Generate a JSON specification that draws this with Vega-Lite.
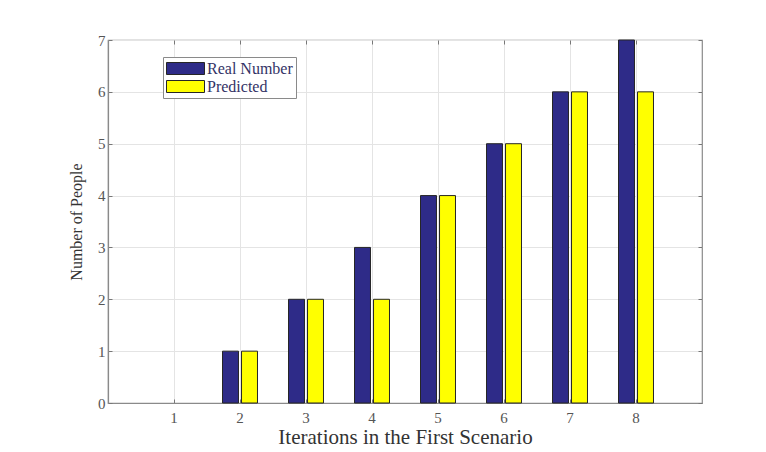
{
  "$schema": "https://vega.github.io/schema/vega-lite/v6.json",
  "width": 594,
  "height": 363,
  "autosize": {"type": "none"},
  "padding": {"left": 108, "top": 40, "right": 64, "bottom": 49},
  "background": "white",
  "config": {
    "view": {"stroke": "#8a8a8a", "strokeWidth": 1.2},
    "font": "Liberation Serif"
  },
  "data": {
    "values": [
      {"iteration": "1", "series": "Real Number", "people": 0},
      {"iteration": "1", "series": "Predicted", "people": 0},
      {"iteration": "2", "series": "Real Number", "people": 1},
      {"iteration": "2", "series": "Predicted", "people": 1},
      {"iteration": "3", "series": "Real Number", "people": 2},
      {"iteration": "3", "series": "Predicted", "people": 2},
      {"iteration": "4", "series": "Real Number", "people": 3},
      {"iteration": "4", "series": "Predicted", "people": 2},
      {"iteration": "5", "series": "Real Number", "people": 4},
      {"iteration": "5", "series": "Predicted", "people": 4},
      {"iteration": "6", "series": "Real Number", "people": 5},
      {"iteration": "6", "series": "Predicted", "people": 5},
      {"iteration": "7", "series": "Real Number", "people": 6},
      {"iteration": "7", "series": "Predicted", "people": 6},
      {"iteration": "8", "series": "Real Number", "people": 7},
      {"iteration": "8", "series": "Predicted", "people": 6}
    ]
  },
  "layer": [
    {
      "mark": {"type": "bar", "stroke": "#262626", "strokeWidth": 1},
      "encoding": {
        "x": {
          "field": "iteration",
          "type": "ordinal",
          "sort": ["1", "2", "3", "4", "5", "6", "7", "8"],
          "scale": {"paddingInner": 0.47, "paddingOuter": 0.735},
          "axis": {
            "title": "Iterations in the First Scenario",
            "labelAngle": 0,
            "labelFont": "Liberation Serif",
            "labelFontSize": 15,
            "labelColor": "#555555",
            "labelPadding": 11,
            "titleFont": "Liberation Serif",
            "titleFontSize": 21,
            "titleFontWeight": "normal",
            "titleColor": "#333333",
            "titlePadding": 1,
            "domainColor": "#8a8a8a",
            "domainWidth": 1.2,
            "tickColor": "#777777",
            "tickSize": -4,
            "grid": true,
            "gridColor": "#e4e4e4",
            "gridWidth": 1
          }
        },
        "xOffset": {
          "field": "series",
          "type": "nominal",
          "sort": ["Real Number", "Predicted"],
          "scale": {"paddingInner": 0.16, "paddingOuter": 0}
        },
        "y": {
          "field": "people",
          "type": "quantitative",
          "scale": {"domain": [0, 7], "nice": false},
          "axis": {
            "title": "Number of People",
            "values": [0, 1, 2, 3, 4, 5, 6, 7],
            "labelFont": "Liberation Serif",
            "labelFontSize": 15,
            "labelColor": "#555555",
            "labelPadding": 7,
            "titleFont": "Liberation Serif",
            "titleFontSize": 16,
            "titleFontWeight": "normal",
            "titleColor": "#333333",
            "titlePadding": 13,
            "domainColor": "#8a8a8a",
            "domainWidth": 1.2,
            "tickColor": "#777777",
            "tickSize": -4,
            "grid": true,
            "gridColor": "#e4e4e4",
            "gridWidth": 1
          }
        },
        "strokeOpacity": {
          "condition": {"test": "datum.people === 0", "value": 0},
          "value": 1
        },
        "color": {
          "field": "series",
          "type": "nominal",
          "sort": ["Real Number", "Predicted"],
          "scale": {"domain": ["Real Number", "Predicted"], "range": ["#2e2b88", "#ffff00"]},
          "legend": {
            "title": null,
            "orient": "none",
            "legendX": 55,
            "legendY": 17,
            "fillColor": "white",
            "strokeColor": "#8a8a8a",
            "padding": 3,
            "rowPadding": 1,
            "symbolType": "M-1,-0.75H3.75V0.75H-1Z",
            "symbolSize": 256,
            "symbolStrokeColor": "#262626",
            "symbolStrokeWidth": 1,
            "labelFont": "Liberation Serif",
            "labelFontSize": 16,
            "labelColor": "#333366",
            "labelOffset": 24
          }
        }
      }
    },
    {
      "mark": {"type": "bar", "opacity": 0},
      "encoding": {
        "x": {
          "field": "iteration",
          "type": "ordinal",
          "sort": ["1", "2", "3", "4", "5", "6", "7", "8"],
          "axis": {
            "orient": "top",
            "title": null,
            "labels": false,
            "domain": false,
            "grid": false,
            "tickColor": "#777777",
            "tickSize": -4
          }
        },
        "y": {
          "field": "people",
          "type": "quantitative",
          "axis": {
            "orient": "right",
            "title": null,
            "labels": false,
            "domain": false,
            "grid": false,
            "values": [0, 1, 2, 3, 4, 5, 6, 7],
            "tickColor": "#777777",
            "tickSize": -4
          }
        }
      }
    }
  ],
  "resolve": {"axis": {"x": "independent", "y": "independent"}}
}
